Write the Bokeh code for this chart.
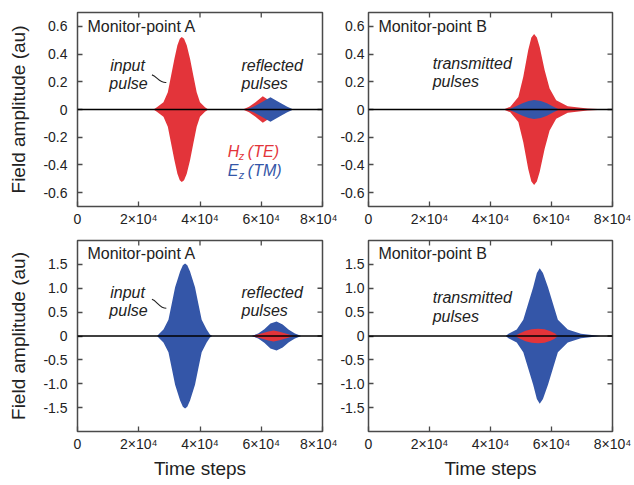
import math
from bokeh.plotting import figure
from bokeh.models import Range1d, FixedTicker, Span, CustomJSTickFormatter
from bokeh.layouts import column, row
from bokeh.embed import file_html
from bokeh.resources import INLINE
from bokeh.core.properties import value

RED = "#e3343a"
BLUE = "#3456a8"
FONT = "Liberation Sans"
INK = "#222222"
FRAME = "#4a4a4a"

# ---- ticks ----
x_ticks = [0, 20000, 40000, 60000, 80000]
x_tick_labels = ["0", "2×10⁴", "4×10⁴", "6×10⁴", "8×10⁴"]
y_ticks_top = [-0.6, -0.4, -0.2, 0, 0.2, 0.4, 0.6]
y_labels_top = ["-0.6", "-0.4", "-0.2", "0", "0.2", "0.4", "0.6"]
y_ticks_bot = [-1.5, -1.0, -0.5, 0, 0.5, 1.0, 1.5]
y_labels_bot = ["-1.5", "-1.0", "-0.5", "0", "0.5", "1.0", "1.5"]

# ---- pulse envelopes (time step, amplitude) ----
# Monitor-point A, Hz (TE)
a_te_input_x = [24810, 25920, 28070, 29490, 30570, 31650, 32620, 33400, 34040, 34800, 35670, 36750, 37820, 38920, 40000, 41630, 42700]
a_te_input_a = [0, 0.017, 0.053, 0.125, 0.246, 0.366, 0.463, 0.51, 0.523, 0.51, 0.463, 0.366, 0.246, 0.125, 0.053, 0.017, 0]
a_te_refl_x = [54000, 56000, 58000, 60500, 63000, 65500, 68000]
a_te_refl_a = [0, 0.02, 0.05, 0.095, 0.06, 0.03, 0]
a_tm_refl_x = [55000, 57500, 60000, 63000, 66000, 68500, 70500]
a_tm_refl_a = [0, 0.02, 0.05, 0.088, 0.05, 0.02, 0]

# Monitor-point B, TE panel
b_te_x = [44300, 46500, 49130, 50750, 52370, 53400, 54300, 55200, 56140, 57760, 59380, 61540, 65320, 71800, 78300]
b_te_a = [0, 0.02, 0.09, 0.236, 0.43, 0.52, 0.545, 0.52, 0.45, 0.284, 0.152, 0.067, 0.024, 0.007, 0]
b_tm_small_x = [45900, 48000, 50500, 52500, 54300, 56500, 58500, 60500, 62500]
b_tm_small_a = [0, 0.02, 0.045, 0.062, 0.068, 0.062, 0.045, 0.022, 0]

# Monitor-point A, Ez (TM) panel
a2_tm_input_x = [26000, 26440, 28070, 29700, 30790, 31870, 33500, 34400, 35120, 35850, 36750, 38370, 39450, 40550, 42180, 43250, 44000]
a2_tm_input_a = [0, 0.034, 0.135, 0.34, 0.68, 1.02, 1.35, 1.48, 1.52, 1.48, 1.35, 1.02, 0.68, 0.34, 0.135, 0.034, 0]
a2_tm_refl_x = [56800, 59000, 61000, 63000, 65000, 67000, 69000, 71000, 73100]
a2_tm_refl_a = [0, 0.05, 0.14, 0.26, 0.305, 0.24, 0.13, 0.05, 0]
a2_te_refl_x = [57100, 59500, 62000, 64000, 66000, 68500, 70500]
a2_te_refl_a = [0, 0.04, 0.09, 0.115, 0.09, 0.04, 0]

# Monitor-point B, TM panel
b2_tm_x = [45000, 45900, 48600, 50750, 52370, 53990, 55200, 56140, 57200, 58850, 60470, 62090, 65330, 69640, 76100]
b2_tm_a = [0, 0.047, 0.135, 0.34, 0.68, 1.02, 1.32, 1.42, 1.32, 1.02, 0.68, 0.34, 0.135, 0.047, 0]
b2_te_x = [48000, 49500, 51500, 53500, 55600, 57700, 59700, 61000, 62100]
b2_te_a = [0, 0.05, 0.11, 0.14, 0.15, 0.14, 0.1, 0.06, 0]

X_MAX = 80000


def fmt(tv, tl):
    return CustomJSTickFormatter(args=dict(tvals=tv, tlabels=tl), code="""
        for (let i = 0; i < tvals.length; i++) {
            if (Math.abs(tvals[i] - tick) < 1e-9) { return tlabels[i]; }
        }
        return "";
    """)


def make(width, height, yr, yt, yl, bl, br, bt, bb, ylabel=None, xlabel=None):
    p = figure(width=width, height=height, output_backend="svg", toolbar_location=None,
               x_range=Range1d(0, X_MAX), y_range=Range1d(-yr, yr),
               min_border_left=bl, min_border_right=br, min_border_top=bt, min_border_bottom=bb,
               background_fill_color="white", border_fill_color="white")
    p.grid.visible = False
    p.outline_line_color = FRAME
    p.outline_line_width = 1.5
    for ax in (p.xaxis[0], p.yaxis[0]):
        ax.axis_line_color = None
        ax.major_tick_in = 5
        ax.major_tick_out = 0
        ax.minor_tick_line_color = None
        ax.major_tick_line_color = FRAME
        ax.major_tick_line_width = 1.3
        ax.major_label_text_font = FONT
        ax.major_label_text_font_size = "14px"
        ax.major_label_text_color = INK
        ax.axis_label_text_font = FONT
        ax.axis_label_text_font_size = "19px"
        ax.axis_label_text_font_style = "normal"
        ax.axis_label_text_color = INK
    p.xaxis.ticker = FixedTicker(ticks=x_ticks)
    p.xaxis.formatter = fmt(x_ticks, x_tick_labels)
    p.xaxis.major_label_standoff = 4
    p.yaxis.ticker = FixedTicker(ticks=yt)
    p.yaxis.formatter = fmt(yt, yl)
    if ylabel:
        p.yaxis.axis_label = ylabel
        p.yaxis.major_label_standoff = 10
        p.yaxis.axis_label_standoff = 11
    else:
        p.yaxis.major_label_standoff = 4
    if xlabel:
        p.xaxis.axis_label = xlabel
        p.xaxis.axis_label_standoff = 3
    # mirrored inward ticks on the right and top edges
    inner_y = yt[1:-1]
    inner_x = x_ticks[1:-1]
    p.ray(x=[X_MAX] * len(inner_y), y=inner_y, length=5, length_units="screen",
          angle=math.pi, line_color=FRAME, line_width=1.3)
    p.ray(x=inner_x, y=[yr] * len(inner_x), length=5, length_units="screen",
          angle=-math.pi / 2, line_color=FRAME, line_width=1.3)
    return p


def pulse(p, xs, amps, color):
    p.varea(x=xs, y1=[-a for a in amps], y2=amps, fill_color=color, fill_alpha=1.0)


def txt(p, x, y, s, italic=False, size="16px", color=INK, xo=0, yo=0):
    p.text(x=[x], y=[y], text=[s], text_font=value(FONT), text_font_size=size,
           text_font_style="italic" if italic else "normal", text_color=color,
           text_baseline="middle", text_align="left", x_offset=xo, y_offset=yo)


def zero(p):
    p.add_layout(Span(location=0, dimension="width", line_color="black", line_width=1.3))


# ---- panel 1: Monitor-point A (TE) ----
p1 = make(337, 236, 0.7, y_ticks_top, y_labels_top, 77, 15, 12, 30, ylabel="Field amplitude (au)")
pulse(p1, a_te_input_x, a_te_input_a, RED)
pulse(p1, a_te_refl_x, a_te_refl_a, RED)
pulse(p1, a_tm_refl_x, a_tm_refl_a, BLUE)
zero(p1)
txt(p1, 3250, 0.6, "Monitor-point A")
txt(p1, 10700, 0.32, "input", italic=True)
txt(p1, 10400, 0.19, "pulse", italic=True)
txt(p1, 53560, 0.32, "reflected", italic=True)
txt(p1, 53560, 0.19, "pulses", italic=True)
p1.bezier(x0=[24300], y0=[0.25], x1=[29000], y1=[0.195], cx0=[25900], cy0=[0.24],
          cx1=[26800], cy1=[0.19], line_color=INK, line_width=1.1)
txt(p1, 49100, -0.30, "H", italic=True, color=RED)
txt(p1, 49100, -0.30, "z", italic=True, color=RED, size="11px", xo=11, yo=5)
txt(p1, 49100, -0.30, "(TE)", italic=True, color=RED, xo=20)
txt(p1, 49100, -0.44, "E", italic=True, color=BLUE)
txt(p1, 49100, -0.44, "z", italic=True, color=BLUE, size="11px", xo=11, yo=5)
txt(p1, 49100, -0.44, "(TM)", italic=True, color=BLUE, xo=20)

# ---- panel 2: Monitor-point B (TE) ----
p2 = make(297, 236, 0.7, y_ticks_top, y_labels_top, 28, 22, 12, 30)
pulse(p2, b_te_x, b_te_a, RED)
pulse(p2, b_tm_small_x, b_tm_small_a, BLUE)
zero(p2)
txt(p2, 3240, 0.6, "Monitor-point B")
txt(p2, 21050, 0.33, "transmitted", italic=True)
txt(p2, 21050, 0.20, "pulses", italic=True)

# ---- panel 3: Monitor-point A (TM) ----
p3 = make(337, 245, 2.0, y_ticks_bot, y_labels_bot, 77, 15, 4, 46,
          ylabel="Field amplitude (au)", xlabel="Time steps")
pulse(p3, a2_tm_input_x, a2_tm_input_a, BLUE)
pulse(p3, a2_tm_refl_x, a2_tm_refl_a, BLUE)
pulse(p3, a2_te_refl_x, a2_te_refl_a, RED)
zero(p3)
txt(p3, 3250, 1.73, "Monitor-point A")
txt(p3, 10700, 0.91, "input", italic=True)
txt(p3, 10400, 0.54, "pulse", italic=True)
txt(p3, 53560, 0.91, "reflected", italic=True)
txt(p3, 53560, 0.54, "pulses", italic=True)
p3.bezier(x0=[24300], y0=[0.77], x1=[29000], y1=[0.58], cx0=[25900], cy0=[0.74],
          cx1=[26800], cy1=[0.58], line_color=INK, line_width=1.1)

# ---- panel 4: Monitor-point B (TM) ----
p4 = make(297, 245, 2.0, y_ticks_bot, y_labels_bot, 28, 22, 4, 46, xlabel="Time steps")
pulse(p4, b2_tm_x, b2_tm_a, BLUE)
pulse(p4, b2_te_x, b2_te_a, RED)
zero(p4)
txt(p4, 3240, 1.73, "Monitor-point B")
txt(p4, 21050, 0.81, "transmitted", italic=True)
txt(p4, 21050, 0.41, "pulses", italic=True)

layout = column(row(p1, p2), row(p3, p4))
open("out.html", "w").write(file_html(layout, INLINE))
